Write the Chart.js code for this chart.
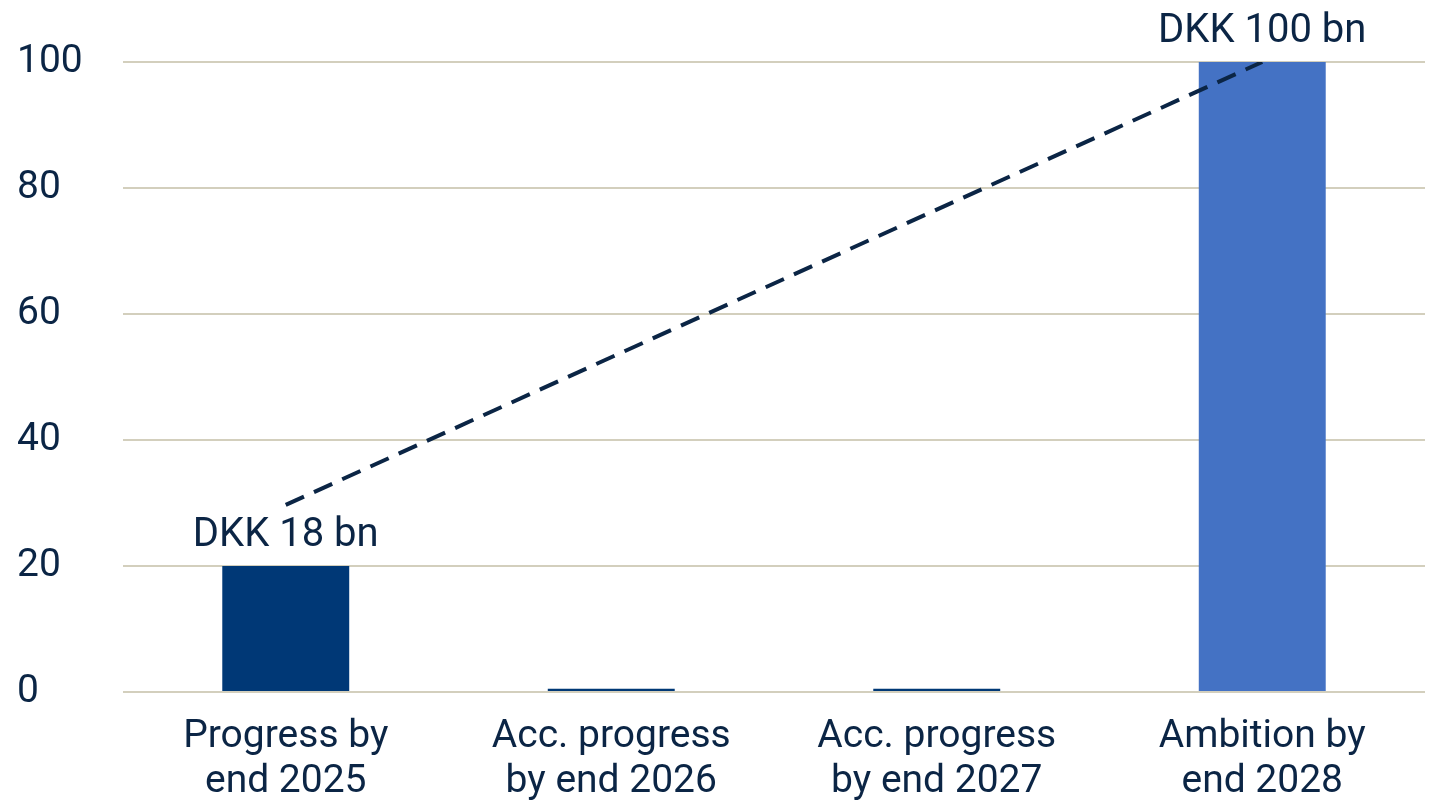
<!DOCTYPE html>
<html>
<head>
<meta charset="utf-8">
<script src="https://cdn.jsdelivr.net/npm/chart.js@4"></script>
<style>
html,body{margin:0;padding:0;background:#fff;}
#c{display:block;}
</style>
</head>
<body>
<canvas id="c" width="1440" height="810"></canvas>
<script>
const categories = [["Progress by","end 2025"],["Acc. progress","by end 2026"],["Acc. progress","by end 2027"],["Ambition by","end 2028"]];
const barValues = [20, 0.5, 0.5, 100];
const barColors = ["#003876", "#003876", "#003876", "#4472c4"];
const barLabels = ["DKK 18 bn", "", "", "DKK 100 bn"];
const trendValues = [29.7, null, null, 100];
const yTicks = [0, 20, 40, 60, 80, 100];

const TEXT = "#0b2545";
const FONT = "Roboto, 'Liberation Sans', sans-serif";

const labelPlugin = {
  id: 'barLabels',
  afterDatasetsDraw(chart) {
    const ctx = chart.ctx;
    const meta = chart.getDatasetMeta(0);
    ctx.save();
    ctx.font = "40px " + FONT;
    ctx.fillStyle = TEXT;
    ctx.textAlign = "center";
    ctx.textBaseline = "bottom";
    meta.data.forEach((el, i) => {
      if (barLabels[i]) ctx.fillText(barLabels[i], el.x, el.y - 10);
    });
    ctx.restore();
  }
};

new Chart(document.getElementById('c'), {
  data: {
    labels: categories,
    datasets: [
      {
        type: 'bar',
        data: barValues,
        backgroundColor: barColors,
        barPercentage: 1,
        categoryPercentage: 0.39,
        order: 2
      },
      {
        type: 'line',
        data: trendValues,
        spanGaps: true,
        borderColor: "#0b2545",
        borderWidth: 4,
        borderDash: [20, 11],
        pointRadius: 0,
        fill: false,
        order: 1
      }
    ]
  },
  options: {
    responsive: false,
    animation: false,
    devicePixelRatio: 1,
    layout: { padding: { top: 62, right: 15, left: 17, bottom: 0 } },
    plugins: { legend: { display: false }, tooltip: { enabled: false } },
    scales: {
      x: {
        grid: { display: false },
        border: { display: false },
        ticks: { color: TEXT, font: { family: FONT, size: 39, lineHeight: 1.17 }, padding: 14, maxRotation: 0 },
        afterFit(s) { s.height = 118; }
      },
      y: {
        min: 0, max: 100,
        afterBuildTicks(s) { s.ticks = yTicks.map(v => ({ value: v })); },
        grid: { color: "#d3cfbd", lineWidth: 2, drawTicks: false },
        border: { display: false },
        ticks: { color: TEXT, font: { family: FONT, size: 39 }, crossAlign: 'far', padding: 0 },
        afterFit(s) { s.width = 106; }
      }
    }
  },
  plugins: [labelPlugin]
});
</script>
</body>
</html>
